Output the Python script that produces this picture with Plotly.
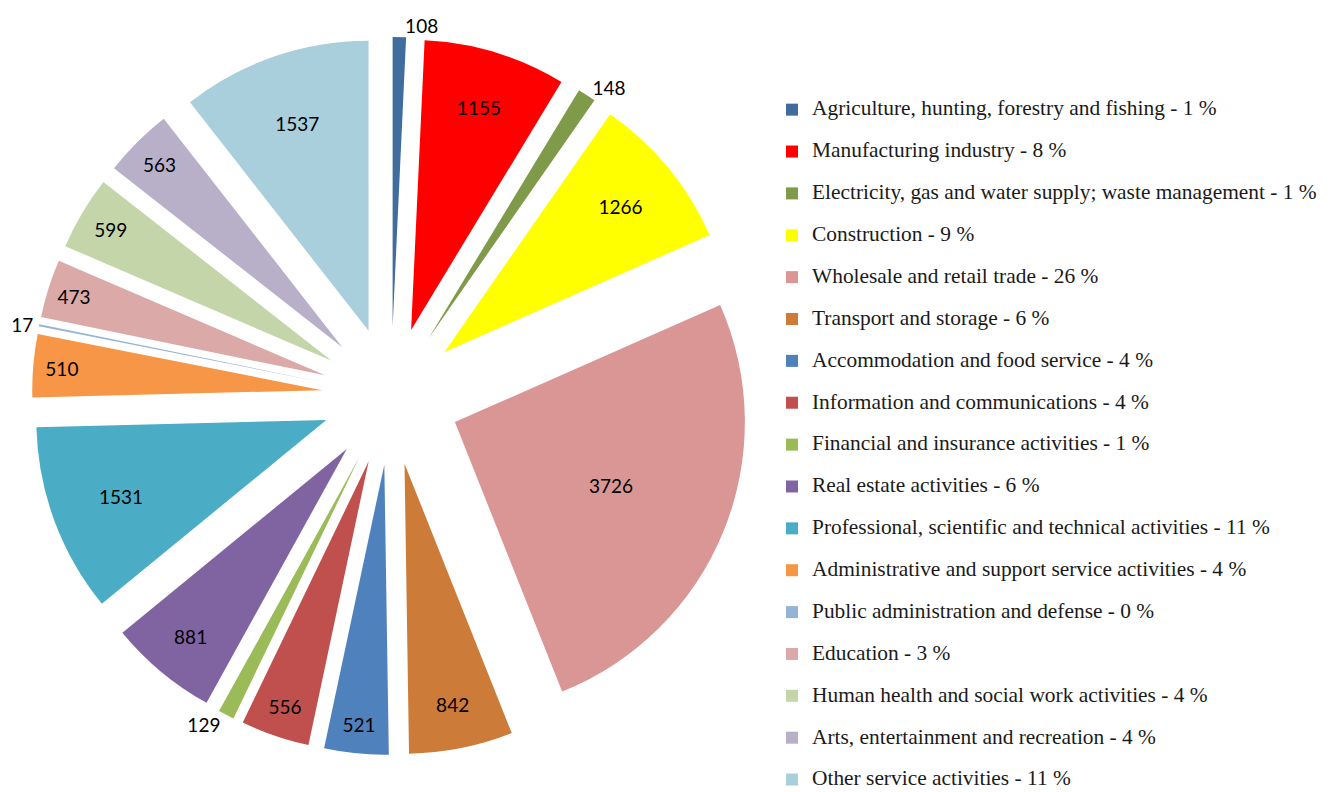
import plotly.graph_objects as go

categories = [
    "Agriculture, hunting, forestry and fishing",
    "Manufacturing industry",
    "Electricity, gas and water supply; waste management",
    "Construction",
    "Wholesale and retail trade",
    "Transport and storage",
    "Accommodation and food service",
    "Information and communications",
    "Financial and insurance activities",
    "Real estate activities",
    "Professional, scientific and technical activities",
    "Administrative and support service activities",
    "Public administration and defense",
    "Education",
    "Human health and social work activities",
    "Arts, entertainment and recreation",
    "Other service activities",
]
counts = [108, 1155, 148, 1266, 3726, 842, 521, 556, 129, 881, 1531, 510, 17, 473, 599, 563, 1537]
percents = [1, 8, 1, 9, 26, 6, 4, 4, 1, 6, 11, 4, 0, 3, 4, 4, 11]
colors = [
    "#416C9E", "#FF0000", "#7F9A48", "#FFFF00", "#D99694", "#CD7B38",
    "#4F81BD", "#C0504D", "#9BBB59", "#8064A2", "#4BACC6", "#F79646",
    "#95B3D7", "#DAA9A8", "#C4D6A9", "#B8AFC9", "#A9CEDC",
]

# legend text: bigger font in a span, blank line first to stretch the row spacing
legend_labels = [
    " <br><span style='font-size:21.4px'>%s - %d %%</span>" % (c, p)
    for c, p in zip(categories, percents)
]
text_pos = ["outside" if v < 200 else "inside" for v in counts]

fig = go.Figure(go.Pie(
    labels=legend_labels,
    values=counts,
    sort=False,
    direction="clockwise",
    rotation=0,
    pull=0.238,
    marker=dict(colors=colors, line=dict(width=0)),
    textinfo="value",
    textposition=text_pos,
    insidetextorientation="horizontal",
    textfont=dict(family="Lato", size=19, color="black"),
    domain=dict(x=[24 / 1339, 742 / 1339], y=[45 / 792, 763 / 792]),
))

fig.update_layout(
    width=1339, height=792,
    margin=dict(l=0, r=0, t=0, b=0, autoexpand=False),
    paper_bgcolor="white",
    showlegend=True,
    legend=dict(
        x=764 / 1339, y=1 - 66 / 792, xanchor="left", yanchor="top",
        font=dict(family="Liberation Serif", size=14.95, color="#1a1a1a"),
        valign="bottom",
    ),
)

fig.write_html("out.html")
